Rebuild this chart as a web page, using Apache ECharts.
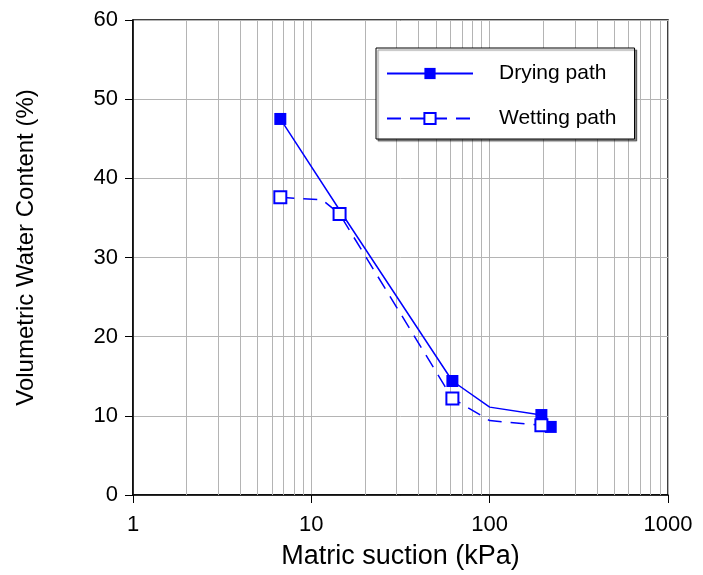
<!DOCTYPE html>
<html>
<head>
<meta charset="utf-8">
<script src="https://cdn.jsdelivr.net/npm/echarts@6/dist/echarts.min.js"></script>
<style>
  html, body { margin: 0; padding: 0; background: #fff; }
  #chart { width: 703px; height: 575px; }
</style>
</head>
<body>
<div id="chart"></div>
<script>
// data: [suction kPa, water content %]
var dryingPts = [[6.7, 47.5], [14.4, 36.0], [61.8, 14.4], [100, 11.1], [195, 10.1], [220, 8.6]];
var dryingMarked = [true, false, true, false, true, true];
var wettingPts = [[6.7, 37.6], [11.5, 37.3], [14.4, 35.5], [61.8, 12.2], [100, 9.4], [195, 8.8]];
var wettingMarked = [true, false, true, true, false, true];
// minor log grid lines
var minorGrid = [2, 3, 4, 5, 6, 7, 8, 9, 20, 30, 40, 50, 60, 70, 80, 90, 200, 300, 400, 500, 600, 700, 800, 900];

var FONT = 'Liberation Sans, Arial, sans-serif';
var BLUE = '#0000ff';

function toData(pts, marked) {
	return pts.map(function (p, i) {
		var d = { value: p };
		if (!marked[i]) d.symbol = 'none';
		return d;
	});
}

var chart = echarts.init(document.getElementById('chart'));

var option = {
	animation: false,
	backgroundColor: '#fff',
	grid: {
		left: 133, right: 35, top: 20, bottom: 80,
		show: true, borderColor: '#000', borderWidth: 1.5
	},
	legend: {
		data: ['Drying path', 'Wetting path'],
		orient: 'vertical',
		left: 376, top: 48,
		padding: [15, 18, 10, 10],
		itemWidth: 86, itemHeight: 14, itemGap: 24,
		backgroundColor: '#fff',
		borderColor: '#000', borderWidth: 1,
		shadowColor: 'rgba(0,0,0,0.45)', shadowOffsetX: 2, shadowOffsetY: 2, shadowBlur: 1,
		textStyle: { fontFamily: FONT, fontSize: 21, color: '#000', padding: [0, 0, 0, 21] }
	},
	xAxis: {
		type: 'log', logBase: 10, min: 1, max: 1000,
		name: 'Matric suction (kPa)', nameLocation: 'middle', nameGap: 48,
		nameTextStyle: { fontFamily: FONT, fontSize: 27, color: '#000' },
		axisLine: { lineStyle: { color: '#000', width: 1.5 } },
		axisTick: { inside: false, length: 8, lineStyle: { color: '#000' } },
		axisLabel: {
			fontFamily: FONT, fontSize: 22, color: '#000', margin: 19,
			formatter: function (v) { return String(v); }
		},
		splitLine: { show: true, lineStyle: { color: '#b4b4b4', width: 1 } },
		minorTick: { show: false },
		minorSplitLine: { show: false }
	},
	yAxis: {
		type: 'value', min: 0, max: 60, interval: 10,
		name: 'Volumetric Water Content (%)', nameLocation: 'middle', nameGap: 95,
		nameTextStyle: { fontFamily: FONT, fontSize: 24, color: '#000', padding: [0, 0, 0, 20] },
		axisLine: { show: true, lineStyle: { color: '#000', width: 1.5 } },
		axisTick: { show: true, length: 8, lineStyle: { color: '#000' } },
		axisLabel: { fontFamily: FONT, fontSize: 22, color: '#000', margin: 15 },
		splitLine: { show: true, lineStyle: { color: '#b4b4b4', width: 1 } }
	},
	series: [
		{
			name: 'Drying path',
			type: 'line',
			data: toData(dryingPts, dryingMarked),
			symbol: 'rect', symbolSize: 12,
			itemStyle: { color: BLUE },
			lineStyle: { color: BLUE, width: 1.5 },
			z: 3,
			markLine: {
				silent: true, symbol: 'none', label: { show: false },
				lineStyle: { color: '#b4b4b4', width: 1, type: 'solid' },
				data: minorGrid.map(function (v) { return { xAxis: v }; }),
				z: 1
			}
		},
		{
			name: 'Wetting path',
			type: 'line',
			data: toData(wettingPts, wettingMarked),
			symbol: 'emptyRect', symbolSize: 12,
			itemStyle: { color: BLUE, borderWidth: 1.5 },
			lineStyle: { color: BLUE, width: 1.5, type: [14, 9] },
			z: 4
		}
	]
};

chart.setOption(option);
</script>
</body>
</html>
